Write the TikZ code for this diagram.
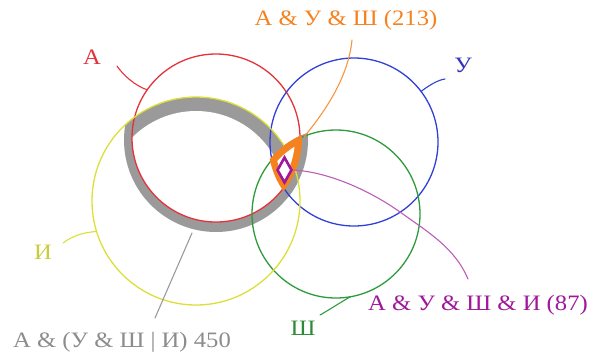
\documentclass[tikz,border=0pt]{standalone}
\usepackage{fontspec}
\setmainfont{Liberation Serif}[FakeStretch=1.12]
\usetikzlibrary{positioning, shapes.geometric}
\definecolor{colA}{HTML}{E4313B}
\definecolor{colU}{HTML}{2F3FD8}
\definecolor{colS}{HTML}{2E9A3A}
\definecolor{colI}{HTML}{DCDF3A}
\definecolor{colO}{HTML}{F5821F}
\definecolor{colM}{HTML}{A0189A}
\definecolor{colG}{HTML}{9A9A9A}
\definecolor{txtU}{HTML}{3434B8}
\definecolor{txtS}{HTML}{2E8A36}
\definecolor{txtI}{HTML}{CACC3A}
\definecolor{txtG}{HTML}{8C8C8C}

\begin{document}
\begin{tikzpicture}[x=1pt,y=-1pt,
 ring/.style={circle,draw,inner sep=0pt,outer sep=0pt,line width=1.3pt},
 lbl/.style={font=\fontsize{22}{25}\selectfont,inner sep=0pt},
 lead/.style={line width=1.1pt,line cap=round}]
\useasboundingbox (0,0) rectangle (590,360);
\coordinate (cA) at (216,138);
\coordinate (cA2) at (216,140);
\coordinate (cU) at (354,142);
\coordinate (cS) at (336,214);
\coordinate (cI) at (196,201);

% A & (U & S | I)
\begin{scope}
\clip (cA2) circle[radius=92pt];
\fill[colG] (cI) circle[radius=104pt];
\end{scope}
\begin{scope}
\clip (cA2) circle[radius=92pt];
\clip (cU) circle[radius=86pt];
\fill[colG] (cS) circle[radius=86pt];
\end{scope}
\begin{scope}
\clip (cA) circle[radius=84pt];
\fill[white] (cI) circle[radius=90pt];
\end{scope}

\node[ring,draw=colA,minimum size=168pt] (A) at (cA) {};
\node[ring,draw=colU,minimum size=168pt] (U) at (cU) {};
\node[ring,draw=colS,minimum size=168pt] (S) at (cS) {};
\node[ring,draw=colI,minimum size=208pt] (I) at (cI) {};

% A & U & S
\begin{scope}
\clip (cA) circle[radius=86pt];
\clip (cU) circle[radius=86pt];
\fill[colO] (cS) circle[radius=86pt];
\end{scope}
\begin{scope}
\clip (cA) circle[radius=79pt];
\clip (cU) circle[radius=79pt];
\fill[white] (cS) circle[radius=79pt];
\end{scope}
\node[diamond,draw=colM,fill=white,line width=2.6pt,inner sep=0pt,
 minimum width=15pt,minimum height=26pt] (D) at (284.5,170) {};

\node[lbl,text=colA] (lA) at (92,57) {А};
\node[lbl,text=txtU] (lU) at (463,65) {У};
\node[lbl,text=txtS] (lS) at (303,328) {Ш};
\node[lbl,text=txtI] (lI) at (43,252) {И};
\node[lbl,text=colO] (lO) at (346,20) {А \& У \& Ш (213)};
\node[lbl,text=colM] (lM) at (478,305) {А \& У \& Ш \& И (87)};
\node[lbl,text=txtG] (lG) at (122,342) {А \& (У \& Ш | И) 450};

\coordinate (tA) at (117,66);
\coordinate (tU) at (445,79);
\coordinate (tS) at (320,315);
\coordinate (tI) at (63,243);
\coordinate (tO) at (352,40);
\coordinate (oTip) at (304,137);
\coordinate (tM) at (468,279);
\coordinate (tG) at (155,318);
\coordinate (gB) at (192,233);

\draw[lead,colA] (tA) .. controls +(6,9) and +(-12,-4) .. (A.145);
\draw[lead,colU] (tU) .. controls +(-8,1) and +(5,-4) .. (U.37);
\draw[lead,colS] (tS) .. controls +(9,-5) and +(-6,3) .. (S.-80);
\draw[lead,colI] (tI) .. controls +(12,-9) and +(-10,1) .. (I.197);
\draw[lead,colO!85] (tO) .. controls +(-4,40) and +(18,-22) .. (oTip);
\draw[lead,colM!70] (D.east) .. controls (330,172) and (372,192) .. (400,212)
 .. controls (428,232) and (455,248) .. (tM);
\draw[lead,colG] (gB) -- (tG);
\end{tikzpicture}
\end{document}
